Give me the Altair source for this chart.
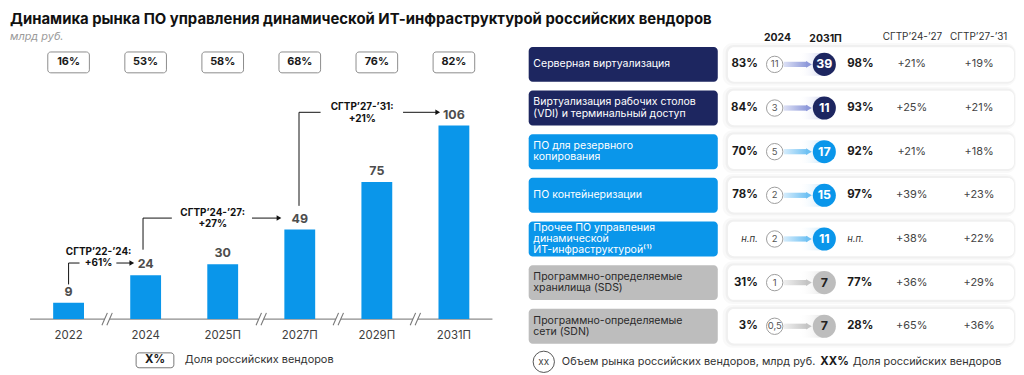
import altair as alt
import pandas as pd

# ---------------- data ----------------
years = ["2022", "2024", "2025П", "2027П", "2029П", "2031П"]
market = [9, 24, 30, 49, 75, 106]            # млрд руб.
ru_share = [16, 53, 58, 68, 76, 82]          # доля российских вендоров, %
cagr_periods = ["СГТР’22-’24:", "СГТР’24-’27:", "СГТР’27-’31:"]
cagr_values = ["+61%", "+27%", "+21%"]

segments = [
    "Серверная виртуализация",
    "Виртуализация рабочих столов\n(VDI) и терминальный доступ",
    "ПО для резервного\nкопирования",
    "ПО контейнеризации",
    "Прочее ПО управления\nдинамической\nИТ-инфраструктурой⁽¹⁾",
    "Программно-определяемые\nхранилища (SDS)",
    "Программно-определяемые\nсети (SDN)",
]
segment_group = ["navy", "navy", "blue", "blue", "blue", "gray", "gray"]
share_2024 = [83, 84, 70, 78, None, 31, 3]
share_2031 = [98, 93, 92, 97, None, 77, 28]
vol_2024 = [11, 3, 5, 2, 2, 1, 0.5]
vol_2031 = [39, 11, 17, 15, 11, 7, 7]
cagr_24_27 = [21, 25, 21, 39, 38, 36, 65]
cagr_27_31 = [19, 21, 18, 23, 22, 29, 36]

title_text = "Динамика рынка ПО управления динамической ИТ-инфраструктурой российских вендоров"
subtitle_text = "млрд руб."

# ---------------- layout / style ----------------
FONT = "Inter"
W_L, W_R, H = 512, 502, 366
NAVY, BLUE, GRAY = "#1d2660", "#0a96ea", "#bdbdbd"
ROW_PX = (319.2 - 55.5) / 6
LINE_PX = 11.2

XS = alt.Scale(domain=[0, 5], range=[61, 449], nice=False, zero=False)
YS = alt.Scale(domain=[0, 106], range=[312, 117], nice=False, zero=False)
RS = alt.Scale(domain=[0, 6], range=[55.5, 319.2], nice=False, zero=False)
GS = alt.Scale(domain=["navy", "blue", "gray"], range=[NAVY, BLUE, GRAY])


def xq(f):
    return alt.X(f, type="quantitative", scale=XS, axis=None)


def yq(f):
    return alt.Y(f, type="quantitative", scale=YS, axis=None)


def rq(f):
    return alt.Y(f, type="quantitative", scale=RS, axis=None)


def one(t):
    return alt.Chart(pd.DataFrame({"t": [t]}))


def fixed_text(t, x, y, **kw):
    props = dict(font=FONT, align="left", baseline="middle")
    props.update(kw)
    return one(t).mark_text(**props).encode(x=alt.value(x), y=alt.value(y), text="t:N")


# ---------------- left panel ----------------
left_df = pd.DataFrame({
    "i": list(range(len(years))),
    "year": years,
    "value": market,
    "share": [f"{s}%" for s in ru_share],
    "z": [0] * len(years),
})
base_l = alt.Chart(left_df)

share_boxes = base_l.transform_calculate(a="datum.i-0.27", b="datum.i+0.27").mark_rect(
    fill="white", stroke="#8c8c8c", strokeWidth=1, cornerRadius=3
).encode(x=xq("a"), x2="b:Q", y=alt.value(43), y2=alt.value(64))
share_text = base_l.mark_text(font=FONT, fontSize=11, fontWeight="bold", color="#1a1a1a").encode(
    x=xq("i"), y=alt.value(53.5), text="share:N")

baseline = alt.Chart(pd.DataFrame({"a": [-0.5], "b": [5.5], "v": [0]})).mark_rule(
    color="#8c8c8c", strokeWidth=1.3).encode(x=xq("a"), x2="b:Q", y=yq("v"))

breaks = [i + 0.5 for i in range(len(years) - 1)
          if int(years[i + 1][:4]) - int(years[i][:4]) > 1]
brk = alt.Chart(pd.DataFrame({"c": breaks}))
gap = brk.transform_calculate(a="datum.c-0.032", b="datum.c+0.032", lo="-1.5", hi="1.5").mark_rect(
    fill="white").encode(x=xq("a"), x2="b:Q", y=yq("lo"), y2="hi:Q")
slash1 = brk.transform_calculate(a="datum.c-0.067", b="datum.c+0.003", lo="-3.4", hi="3.4").mark_rule(
    color="#777", strokeWidth=1.1).encode(x=xq("a"), x2="b:Q", y=yq("lo"), y2="hi:Q")
slash2 = brk.transform_calculate(a="datum.c-0.003", b="datum.c+0.067", lo="-3.4", hi="3.4").mark_rule(
    color="#777", strokeWidth=1.1).encode(x=xq("a"), x2="b:Q", y=yq("lo"), y2="hi:Q")

bars = base_l.transform_calculate(a="datum.i-0.2", b="datum.i+0.2").mark_bar(color=BLUE).encode(
    x=xq("a"), x2="b:Q", y=yq("value"), y2="z:Q")
bar_labels = base_l.mark_text(font=FONT, fontSize=12.5, fontWeight="bold", color="#4d4d4d",
                              baseline="alphabetic", dy=-7).encode(
    x=xq("i"), y=yq("value"), text=alt.Text("value:Q"))
cat_labels = base_l.mark_text(font=FONT, fontSize=11.5, color="#404040").encode(
    x=xq("i"), y=alt.value(328.7), text="year:N")

# CAGR brackets (annotation placement, in scale units)
ann_layout = [
    dict(vx=0.0, vy0=19.0, vy1=30.7, hx1=0.142, tx=0.39, ty1=36.8, ty2=30.7, ax0=0.62, ax1=0.82),
    dict(vx=0.966, vy0=38.0, vy1=55.3, hx1=1.34, tx=1.87, ty1=58.3, ty2=52.0, ax0=2.38, ax1=2.73),
    dict(vx=2.99, vy0=62.0, vy1=113.2, hx1=3.27, tx=3.81, ty1=115.9, ty2=109.6, ax0=4.34, ax1=4.79),
]
ann_df = pd.DataFrame(ann_layout)
ann_df["period"] = cagr_periods
ann_df["cagr"] = cagr_values
ann = alt.Chart(ann_df)
ann_v = ann.mark_rule(color="#111", strokeWidth=1).encode(x=xq("vx"), y=yq("vy0"), y2="vy1:Q")
ann_h = ann.mark_rule(color="#111", strokeWidth=1).encode(x=xq("vx"), x2="hx1:Q", y=yq("vy1"))
ann_a = ann.mark_rule(color="#111", strokeWidth=1).encode(x=xq("ax0"), x2="ax1:Q", y=yq("vy1"))
ann_head = ann.mark_point(shape="triangle-right", filled=True, size=30, color="#111", opacity=1).encode(
    x=xq("ax1"), y=yq("vy1"))
ann_t1 = ann.mark_text(font=FONT, fontSize=10, fontWeight="bold", color="#111").encode(
    x=xq("tx"), y=yq("ty1"), text="period:N")
ann_t2 = ann.mark_text(font=FONT, fontSize=10, fontWeight="bold", color="#111").encode(
    x=xq("tx"), y=yq("ty2"), text="cagr:N")

title = fixed_text(title_text, 2, 10, fontSize=15, fontWeight="bold", color="#111")
subtitle = fixed_text(subtitle_text, 2, 27.5, fontSize=11, fontStyle="italic", color="#9a9a9a")

leg_box = one("X%").mark_rect(fill="white", stroke="#777", strokeWidth=1, cornerRadius=3).encode(
    x=alt.value(129), x2=alt.value(167), y=alt.value(346), y2=alt.value(361))
leg_x = fixed_text("X%", 148, 353.5, align="center", fontSize=11.5, fontWeight="bold", color="#1a1a1a")
leg_t = fixed_text("Доля российских вендоров", 178, 353.5, fontSize=11, color="#333")

left = alt.layer(
    title, subtitle, share_boxes, share_text, baseline, gap, slash1, slash2, bars, bar_labels,
    cat_labels, ann_v, ann_h, ann_a, ann_head, ann_t1, ann_t2, leg_box, leg_x, leg_t
).properties(width=W_L, height=H)


# ---------------- right panel ----------------
def pct(v):
    return "н.п." if v is None else f"{v}%"


def num(v):
    return str(int(v)) if float(v).is_integer() else str(v).replace(".", ",")


right_df = pd.DataFrame({
    "r": list(range(len(segments))),
    "seg": segments,
    "grp": segment_group,
    "s24": [pct(v) for v in share_2024],
    "s31": [pct(v) for v in share_2031],
    "k24": [v is not None for v in share_2024],
    "k31": [v is not None for v in share_2031],
    "v24": [num(v) for v in vol_2024],
    "v31": [num(v) for v in vol_2031],
    "c1": [f"+{v}%" for v in cagr_24_27],
    "c2": [f"+{v}%" for v in cagr_27_31],
})
base_r = alt.Chart(right_df)

# one text row per label line, centred on its row
line_rows = []
for r, (seg, g) in enumerate(zip(segments, segment_group)):
    parts = seg.split("\n")
    n = len(parts)
    for li, p in enumerate(parts):
        line_rows.append({"r": r, "grp": g, "line": p,
                          "yl": r + (li - (n - 1) / 2) * LINE_PX / ROW_PX})
lines_df = pd.DataFrame(line_rows)


def band(h):
    return base_r.transform_calculate(y0=f"datum.r-{h}", y1=f"datum.r+{h}")


shadow1 = band(0.49).mark_rect(fill="#000", opacity=0.025, cornerRadius=10).encode(
    x=alt.value(207.5), x2=alt.value(503), y=rq("y0"), y2="y1:Q")
shadow2 = band(0.445).mark_rect(fill="#000", opacity=0.035, cornerRadius=8).encode(
    x=alt.value(210.5), x2=alt.value(502), y=rq("y0"), y2="y1:Q")
card = band(0.395).mark_rect(fill="white", cornerRadius=6).encode(
    x=alt.value(213), x2=alt.value(501), y=rq("y0"), y2="y1:Q")

seg_box = band(0.4).mark_rect(cornerRadius=4).encode(
    x=alt.value(12.3), x2=alt.value(202.7), y=rq("y0"), y2="y1:Q",
    color=alt.Color("grp:N", scale=GS, legend=None))
seg_text = alt.Chart(lines_df).mark_text(font=FONT, fontSize=10.6, align="left", baseline="middle").encode(
    x=alt.value(17), y=rq("yl"), text="line:N",
    color=alt.condition(alt.datum.grp == "gray", alt.value("#2a2a2a"), alt.value("white")))

beam_colors = {"navy": ("#dde1f5", "#8e99da", "#cdd2ee"),
               "blue": ("#d7edfc", "#6fc1f3", "#c6e5fa"),
               "gray": ("#efefef", "#c4c4c4", "#e2e2e2")}
beams = []
for g, (c0, c1, cg) in beam_colors.items():
    sub = band(0.26).transform_filter(alt.datum.grp == g)
    glow = sub.mark_rect(fill=alt.Gradient(
        gradient="linear", x1=0, x2=1, y1=0, y2=0,
        stops=[alt.GradientStop(color="rgba(255,255,255,0)", offset=0),
               alt.GradientStop(color=cg, offset=1)])).encode(
        x=alt.value(284), x2=alt.value(310), y=rq("y0"), y2="y1:Q")
    sub2 = base_r.transform_calculate(y0="datum.r-0.06", y1="datum.r+0.06").transform_filter(
        alt.datum.grp == g)
    beam = sub2.mark_rect(fill=alt.Gradient(
        gradient="linear", x1=0, x2=1, y1=0, y2=0,
        stops=[alt.GradientStop(color=c0, offset=0), alt.GradientStop(color=c1, offset=1)])).encode(
        x=alt.value(269), x2=alt.value(293), y=rq("y0"), y2="y1:Q")
    head = base_r.transform_filter(alt.datum.grp == g).mark_point(
        shape="triangle-right", filled=True, size=45, color=c1, opacity=1).encode(
        x=alt.value(294.5), y=rq("r"))
    beams += [glow, beam, head]

small_c = base_r.mark_circle(size=272, fill="white", stroke="#9d9d9d", strokeWidth=1, opacity=1).encode(
    x=alt.value(260), y=rq("r"))
small_t = base_r.mark_text(font=FONT, fontSize=9.5, color="#555").encode(
    x=alt.value(260), y=rq("r"), text="v24:N")
big_c = base_r.mark_circle(size=540, opacity=1).encode(
    x=alt.value(310), y=rq("r"), color=alt.Color("grp:N", scale=GS, legend=None))
big_t = base_r.mark_text(font=FONT, fontSize=12.5, fontWeight="bold").encode(
    x=alt.value(310), y=rq("r"), text="v31:N",
    color=alt.condition(alt.datum.grp == "gray", alt.value("#222"), alt.value("white")))

s24 = base_r.transform_filter("datum.k24").mark_text(
    font=FONT, fontSize=11.5, fontWeight="bold", color="#1a1a1a", align="right").encode(
    x=alt.value(243), y=rq("r"), text="s24:N")
s24n = base_r.transform_filter("!datum.k24").mark_text(
    font=FONT, fontSize=9.5, fontStyle="italic", color="#333", align="right").encode(
    x=alt.value(243), y=rq("r"), text="s24:N")
s31 = base_r.transform_filter("datum.k31").mark_text(
    font=FONT, fontSize=11.5, fontWeight="bold", color="#1a1a1a", align="left").encode(
    x=alt.value(333), y=rq("r"), text="s31:N")
s31n = base_r.transform_filter("!datum.k31").mark_text(
    font=FONT, fontSize=9.5, fontStyle="italic", color="#333", align="left").encode(
    x=alt.value(333), y=rq("r"), text="s31:N")
c1t = base_r.mark_text(font=FONT, fontSize=11, color="#444").encode(
    x=alt.value(398), y=rq("r"), text="c1:N")
c2t = base_r.mark_text(font=FONT, fontSize=11, color="#444").encode(
    x=alt.value(465.8), y=rq("r"), text="c2:N")

h1 = fixed_text("2024", 262.8, 29, align="center", fontSize=10.5, fontWeight="bold", color="#1a1a1a")
h2 = fixed_text("2031П", 311.3, 30, align="center", fontSize=10.5, fontWeight="bold", color="#1a1a1a")
h3 = fixed_text("СГТР’24-’27", 398.7, 27.5, align="center", fontSize=10, color="#333")
h4 = fixed_text("СГТР’27-’31", 465.5, 27.5, align="center", fontSize=10, color="#333")

lg_c = one("xx").mark_circle(size=460, fill="white", stroke="#555", strokeWidth=1, opacity=1).encode(
    x=alt.value(27.5), y=alt.value(355))
lg_ct = fixed_text("xx", 27.5, 355, align="center", fontSize=10, color="#444")
lg_t1 = fixed_text("Объем рынка российских вендоров, млрд руб.", 45.7, 355, fontSize=11, color="#333")
lg_x = fixed_text("XX%", 306, 355, fontSize=11.5, fontWeight="bold", color="#1a1a1a")
lg_t2 = fixed_text("Доля российских вендоров", 338.5, 355, fontSize=11, color="#333")

right = alt.layer(
    shadow1, shadow2, card, seg_box, seg_text, *beams, small_c, small_t, big_c, big_t,
    s24, s24n, s31, s31n, c1t, c2t, h1, h2, h3, h4, lg_c, lg_ct, lg_t1, lg_x, lg_t2
).properties(width=W_R, height=H)

chart = alt.hconcat(left, right, spacing=0, bounds="flush", padding=0).configure_view(stroke=None)

chart.save("out.html", embed_options={"renderer": "svg", "actions": False})
